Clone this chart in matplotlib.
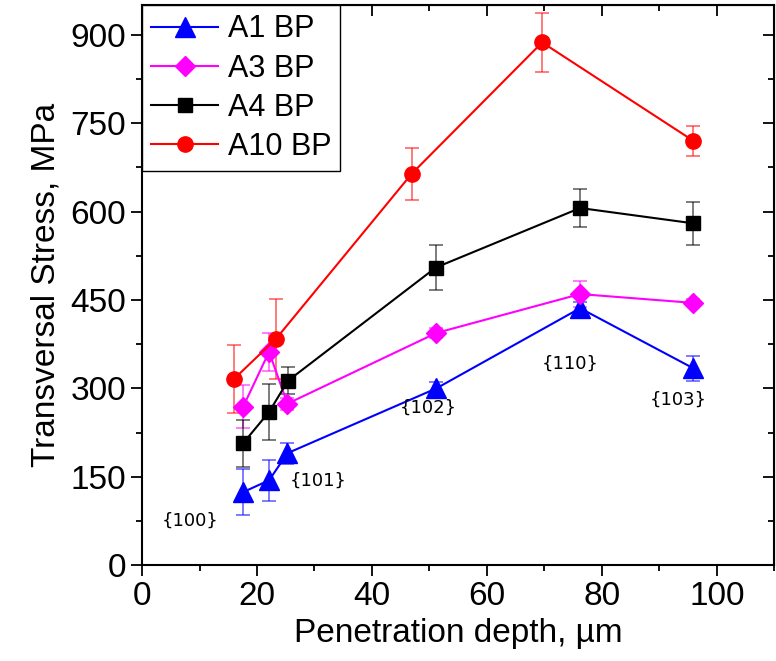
import matplotlib
matplotlib.use("Agg")
import matplotlib.pyplot as plt
from matplotlib.ticker import MultipleLocator

# Penetration depth (um) and transversal stress (MPa) per sample
a1_depth = [17.6, 22.1, 25.3, 51.2, 76.2, 95.9]
a1_stress = [124, 144, 190, 300, 436, 334]
a1_err = [39, 35, 18, 10, 10, 21]

a3_depth = [17.6, 22.1, 25.3, 51.2, 76.2, 95.9]
a3_stress = [269, 362, 274, 394, 460, 445]
a3_err = [37, 32, 10, 8, 22, 6]

a4_depth = [17.6, 22.1, 25.4, 51.1, 76.2, 95.9]
a4_stress = [207, 260, 313, 505, 606, 580]
a4_err = [40, 47, 23, 38, 32, 37]

a10_depth = [16.0, 23.3, 46.9, 69.6, 95.9]
a10_stress = [316, 384, 664, 887, 720]
a10_err = [57, 68, 44, 50, 25]

plane_labels = ["{100}", "{101}", "{102}", "{110}", "{103}"]
plane_x = [8.3, 30.6, 49.7, 74.4, 93.2]
plane_y = [76, 144, 267, 341, 280]

plt.rcParams['font.family'] = ['Liberation Sans', 'DejaVu Sans']

fig = plt.figure(figsize=(7.76, 6.61), dpi=100)
ax = fig.add_axes([0.183, 0.145, 0.815, 0.847])

series = [
    ("A1 BP", a1_depth, a1_stress, a1_err, "#0000ff", "^", 14),
    ("A3 BP", a3_depth, a3_stress, a3_err, "#ff00ff", "D", 10),
    ("A4 BP", a4_depth, a4_stress, a4_err, "black", "s", 10),
    ("A10 BP", a10_depth, a10_stress, a10_err, "#ff0000", "o", 11),
]

handles = []
for name, x, y, err, color, marker, ms in series:
    ax.errorbar(x, y, yerr=err, fmt="none", ecolor=color, alpha=0.6,
                elinewidth=1.2, capsize=5, capthick=1.2, zorder=2)
    line, = ax.plot(x, y, color=color, marker=marker, markersize=ms,
                    linewidth=1.5, label=name, zorder=3)
    handles.append(line)

for label, x, y in zip(plane_labels, plane_x, plane_y):
    ax.text(x, y, label, fontsize=13, family='DejaVu Sans',
            ha='center', va='center')

ax.set_xlim(0, 110)
ax.set_ylim(0, 950)
ax.xaxis.set_major_locator(MultipleLocator(20))
ax.xaxis.set_minor_locator(MultipleLocator(10))
ax.yaxis.set_major_locator(MultipleLocator(150))
ax.yaxis.set_minor_locator(MultipleLocator(75))

ax.tick_params(which='both', direction='out', width=1.3, labelsize=24)
ax.tick_params(which='major', length=8)
ax.tick_params(which='minor', length=4)
for spine in ax.spines.values():
    spine.set_linewidth(1.5)

# top and right ticks point inward, bottom and left outward
top = ax.secondary_xaxis('top')
top.xaxis.set_major_locator(MultipleLocator(20))
top.xaxis.set_minor_locator(MultipleLocator(10))
top.tick_params(which='both', direction='in', labeltop=False, width=1.3)
top.tick_params(which='major', length=8)
top.tick_params(which='minor', length=4)
right = ax.secondary_yaxis('right')
right.yaxis.set_major_locator(MultipleLocator(150))
right.yaxis.set_minor_locator(MultipleLocator(75))
right.tick_params(which='both', direction='in', labelright=False, width=1.3)
right.tick_params(which='major', length=8)
right.tick_params(which='minor', length=4)

ax.set_xlabel("Penetration depth, µm", fontsize=24, labelpad=4)
ax.set_ylabel("Transversal Stress, MPa", fontsize=24, labelpad=6)

leg = ax.legend(handles=handles, loc='upper left', bbox_to_anchor=(0, 1),
                borderaxespad=0, fontsize=22, handlelength=2.2,
                handletextpad=0.3, labelspacing=0.3, frameon=True,
                fancybox=False, framealpha=1, edgecolor='black',
                borderpad=0.3)
leg.get_frame().set_linewidth(1.0)

fig.savefig("out.png", dpi=100)
